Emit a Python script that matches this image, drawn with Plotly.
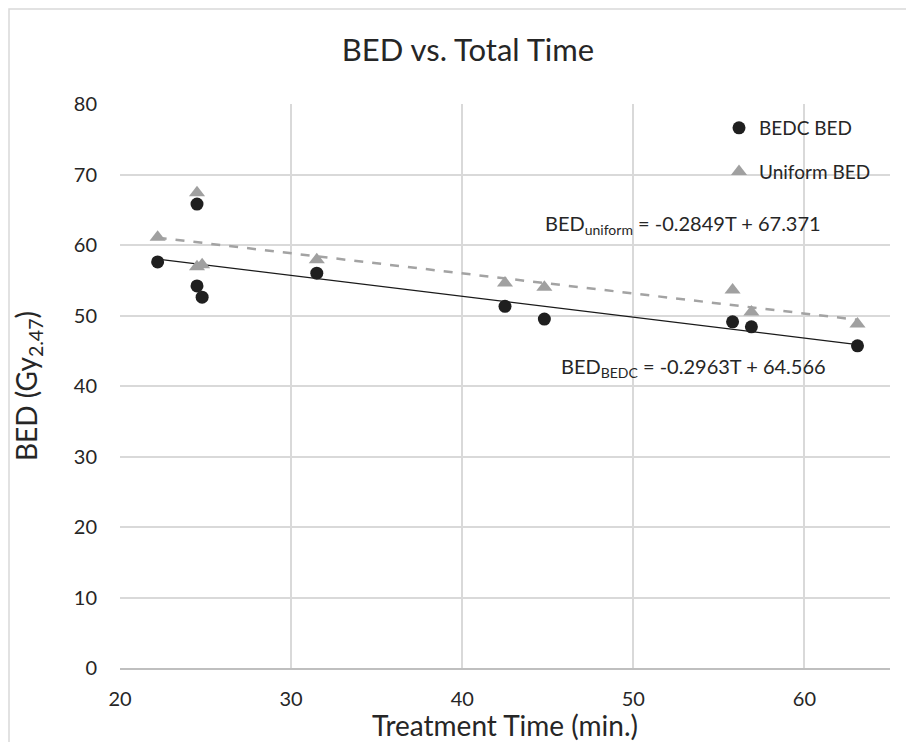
import plotly.graph_objects as go

# Data
time_bedc = [22.2, 24.5, 24.5, 24.8, 31.5, 42.5, 44.8, 55.8, 56.9, 63.1]
bed_bedc = [57.6, 65.8, 54.2, 52.6, 56.0, 51.3, 49.5, 49.1, 48.4, 45.7]
time_uni = [22.2, 24.5, 24.5, 24.8, 31.5, 42.5, 44.8, 55.8, 56.9, 63.1]
bed_uni = [61.1, 67.4, 56.9, 57.2, 57.9, 54.6, 54.0, 53.6, 50.5, 48.8]

# Linear trendline coefficients (as labelled)
slope_bedc, icpt_bedc = -0.2963, 64.566
slope_uni, icpt_uni = -0.2849, 67.371

x_ticks = [20, 30, 40, 50, 60]
y_ticks = [0, 10, 20, 30, 40, 50, 60, 70, 80]

FONT = "Lato"
TXT = "#262626"

# page has an 8px body margin; figure sized to fit the viewport
OFF = 8
W, H = 914 - OFF, 742 - OFF
L, R, T, B = 120 - OFF, 24, 104 - OFF, 74
pw, ph = W - L - R, H - T - B


def px(xs):
    """reference screen x -> paper fraction"""
    return (xs - OFF - L) / pw


def py(ys):
    """reference screen y -> paper fraction"""
    return (H - B - (ys - OFF)) / ph


tx_b = [min(time_bedc), max(time_bedc)]
tx_u = [min(time_uni), max(time_uni)]

fig = go.Figure()
fig.add_trace(go.Scatter(x=tx_u, y=[slope_uni * t + icpt_uni for t in tx_u], mode="lines",
                         line=dict(color="#a3a3a3", width=2.5, dash="dash"), showlegend=False,
                         hoverinfo="skip"))
fig.add_trace(go.Scatter(x=tx_b, y=[slope_bedc * t + icpt_bedc for t in tx_b], mode="lines",
                         line=dict(color="#1a1a1a", width=1.3), showlegend=False,
                         hoverinfo="skip"))
fig.add_trace(go.Scatter(x=time_uni, y=bed_uni, mode="markers", name="Uniform BED",
                         legendgroup="b", legendrank=2,
                         marker=dict(symbol="triangle-up", size=14, color="#a0a0a0")))
fig.add_trace(go.Scatter(x=time_bedc, y=bed_bedc, mode="markers", name="BEDC BED",
                         legendgroup="a", legendrank=1,
                         marker=dict(symbol="circle", size=13, color="#1f1f1f")))

fig.add_annotation(x=px(683), y=py(225), xref="paper", yref="paper", showarrow=False,
                   xanchor="center", yanchor="middle",
                   text="BED<sub>uniform</sub> = -0.2849T + 67.371",
                   font=dict(family=FONT, size=20, color=TXT))
fig.add_annotation(x=px(693), y=py(367), xref="paper", yref="paper", showarrow=False,
                   xanchor="center", yanchor="middle",
                   text="BED<sub>BEDC</sub> = -0.2963T + 64.566",
                   font=dict(family=FONT, size=20, color=TXT))

# outer chart border
fig.add_shape(type="rect", xref="paper", yref="paper",
              x0=px(9), x1=px(940), y0=py(770), y1=py(9),
              line=dict(color="#d9d9d9", width=1.5), layer="below")

fig.update_layout(
    width=W, height=H,
    margin=dict(l=L, r=R, t=T, b=B),
    paper_bgcolor="white", plot_bgcolor="white",
    font=dict(family=FONT, color=TXT),
    title=dict(text="BED vs. Total Time", x=(468 - OFF) / W, xref="container",
               y=1 - (50 - OFF) / H, yref="container", yanchor="middle",
               xanchor="center", font=dict(family=FONT, size=31, color=TXT)),
    showlegend=True,
    legend=dict(x=px(719), y=py(109), xanchor="left", yanchor="top",
                bgcolor="rgba(0,0,0,0)", font=dict(family=FONT, size=19, color=TXT),
                tracegroupgap=16, itemwidth=30),
    xaxis=dict(range=[20, 65], tickvals=x_ticks, ticktext=[str(v) for v in x_ticks],
               automargin=False,
               showgrid=True, gridcolor="#d9d9d9", gridwidth=1.5,
               showline=True, linecolor="#bfbfbf", linewidth=1.5, zeroline=False,
               ticks="", ticklabelstandoff=12,
               tickfont=dict(family=FONT, size=20, color=TXT),
               title=dict(text="Treatment Time (min.)", standoff=10,
                          font=dict(family=FONT, size=28, color=TXT))),
    yaxis=dict(range=[0, 80], tickvals=y_ticks, ticktext=[str(v) for v in y_ticks],
               automargin=False,
               showgrid=True, gridcolor="#d9d9d9", gridwidth=1.5,
               showline=False, zeroline=False, ticks="", ticklabelstandoff=22,
               tickfont=dict(family=FONT, size=20, color=TXT),
               title=dict(text="BED (Gy<sub>2.47</sub>)", standoff=27,
                          font=dict(family=FONT, size=28, color=TXT))),
)

fig.write_html("out.html")
